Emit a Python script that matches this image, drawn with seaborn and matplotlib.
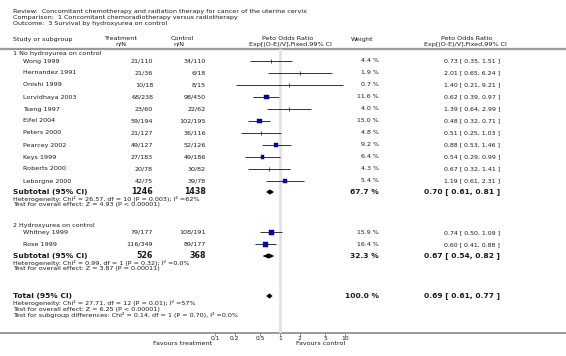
"""
Forest plot: Survival by hydroxyurea on control
Concomitant chemoradiotherapy versus radiotherapy
"""

import numpy as np
import pandas as pd
import matplotlib
matplotlib.use("Agg")
import matplotlib.pyplot as plt
import seaborn as sns

# ===================== Data =====================
REVIEW = "Review:  Concomitant chemotherapy and radiation therapy for cancer of the uterine cervix"
COMPARISON = "Comparison:  1 Concomitant chemoradiotherapy versus radiotherapy"
OUTCOME = "Outcome:  3 Survival by hydroxyurea on control"

G1_TITLE = "1 No hydroyurea on control"
G1_STUDIES = ["Wong 1999", "Hernandez 1991", "Onishi 1999", "Lorvidhaya 2003", "Tseng 1997",
              "Eifel 2004", "Peters 2000", "Pearcey 2002", "Keys 1999", "Roberts 2000",
              "Leborgne 2000"]
G1_TREAT = ["21/110", "21/36", "10/18", "68/238", "23/60", "59/194", "21/127", "49/127",
            "27/183", "20/78", "42/75"]
G1_CTRL = ["34/110", "6/18", "8/15", "98/450", "22/62", "102/195", "36/116", "52/126",
           "49/186", "30/82", "39/78"]
G1_WEIGHT = [4.4, 1.9, 0.7, 11.6, 4.0, 15.0, 4.8, 9.2, 6.4, 4.3, 5.4]
G1_OR = [0.73, 2.01, 1.40, 0.62, 1.39, 0.48, 0.51, 0.88, 0.54, 0.67, 1.19]
G1_LO = [0.35, 0.65, 0.21, 0.39, 0.64, 0.32, 0.25, 0.53, 0.29, 0.32, 0.61]
G1_HI = [1.51, 6.24, 9.21, 0.97, 2.99, 0.71, 1.03, 1.46, 0.99, 1.41, 2.31]
G1_SUB = {"treat": "1246", "ctrl": "1438", "weight": 67.7, "or": 0.70, "lo": 0.61, "hi": 0.81}
G1_HET = "Heterogeneity: Chi\u00b2 = 26.57, df = 10 (P = 0.003); I\u00b2 =62%"
G1_TEST = "Test for overall effect: Z = 4.93 (P < 0.00001)"

G2_TITLE = "2 Hydroxyurea on control"
G2_STUDIES = ["Whitney 1999", "Rose 1999"]
G2_TREAT = ["79/177", "116/349"]
G2_CTRL = ["108/191", "89/177"]
G2_WEIGHT = [15.9, 16.4]
G2_OR = [0.74, 0.60]
G2_LO = [0.50, 0.41]
G2_HI = [1.09, 0.88]
G2_SUB = {"treat": "526", "ctrl": "368", "weight": 32.3, "or": 0.67, "lo": 0.54, "hi": 0.82}
G2_HET = "Heterogeneity: Chi\u00b2 = 0.99, df = 1 (P = 0.32); I\u00b2 =0.0%"
G2_TEST = "Test for overall effect: Z = 3.87 (P = 0.00011)"

TOTAL = {"weight": 100.0, "or": 0.69, "lo": 0.61, "hi": 0.77}
TOTAL_HET = "Heterogeneity: Chi\u00b2 = 27.71, df = 12 (P = 0.01); I\u00b2 =57%"
TOTAL_TEST = "Test for overall effect: Z = 6.25 (P < 0.00001)"
TOTAL_SUBDIFF = "Test for subgroup differences: Chi\u00b2 = 0.14, df = 1 (P = 0.70), I\u00b2 =0.0%"

XTICKS = [0.1, 0.2, 0.5, 1, 2, 5, 10]
XTICK_LABELS = ["0.1", "0.2", "0.5", "1", "2", "5", "10"]

# ===================== Layout (pixels) =====================
W, H = 566, 356
X_NAME, X_STUDY = 13, 23
X_TREAT, X_CTRL = 153, 206
X_WEIGHT, X_RESULT = 379, 500
PX_PER_DECADE = 65.0
X_ONE = 280
TXT = "#1a1a1a"
SQUARE = "#0000cc"
FS = 4.6        # regular text
FS_VAL = 4.5    # weight / ratio values
FS_BOLD = 5.4   # subtotal rows

sns.set_style("white")
plt.rcParams["font.family"] = ["DejaVu Sans"]


def fmt_ci(o, l, h):
    return f"{o:.2f} [ {l:.2f}, {h:.2f} ]"


def study_rows(tx, fx, ys, studies, treat, ctrl, weight, ors, los, his):
    for y, s, t, c, w, o, l, h in zip(ys, studies, treat, ctrl, weight, ors, los, his):
        tx.text(X_STUDY, y, s, fontsize=FS, va="center", color=TXT)
        tx.text(X_TREAT, y, t, fontsize=FS, va="center", ha="right", color=TXT)
        tx.text(X_CTRL, y, c, fontsize=FS, va="center", ha="right", color=TXT)
        tx.text(X_WEIGHT, y, f"{w:.1f} %", fontsize=FS_VAL, va="center", ha="right", color=TXT)
        tx.text(X_RESULT, y, fmt_ci(o, l, h), fontsize=FS_VAL, va="center", ha="right", color=TXT)

    df = pd.DataFrame({"y": ys, "or": ors, "lo": los, "hi": his, "w": weight})
    fx.hlines(df["y"], df["lo"], df["hi"], color="#333333", lw=0.7, zorder=2)
    small = df[df["w"] < 5]
    big = df[df["w"] >= 5]
    if len(small):
        sns.scatterplot(data=small, x="or", y="y", marker="|", s=10, color="#333333",
                        linewidth=0.6, ax=fx, zorder=3, legend=False)
    if len(big):
        sizes = ((2.6 + 0.15 * big["w"]) * 0.72) ** 2
        fx.scatter(big["or"], big["y"], marker="s", s=sizes, color=SQUARE,
                   edgecolors="#000066", linewidths=0.3, zorder=3)


def diamond(fx, y, o, l, h, half=2.6):
    fx.fill([l, o, h, o], [y, y - half, y, y + half], color="black", zorder=3, lw=0)


def summary_row(tx, fx, y, label, res, treat=None, ctrl=None):
    tx.text(X_NAME, y, label, fontsize=FS_BOLD, fontweight="bold", va="center", color=TXT)
    if treat is not None:
        tx.text(X_TREAT, y, treat, fontsize=FS_BOLD + 0.3, fontweight="bold", va="center", ha="right", color=TXT)
        tx.text(X_CTRL, y, ctrl, fontsize=FS_BOLD + 0.3, fontweight="bold", va="center", ha="right", color=TXT)
    tx.text(X_WEIGHT, y, f"{res['weight']:.1f} %", fontsize=FS_BOLD, fontweight="bold",
            va="center", ha="right", color=TXT)
    tx.text(X_RESULT, y, fmt_ci(res["or"], res["lo"], res["hi"]), fontsize=FS_BOLD,
            fontweight="bold", va="center", ha="right", color=TXT)
    diamond(fx, y, res["or"], res["lo"], res["hi"])


def small_note(tx, y, s):
    tx.text(X_NAME, y, s, fontsize=FS, va="center", color=TXT)


def main():
    fig = plt.figure(figsize=(W / 100, H / 100), dpi=100)
    tx = fig.add_axes([0, 0, 1, 1])
    tx.set_xlim(0, W)
    tx.set_ylim(H, 0)
    tx.axis("off")

    # forest panel, log scale centred on 1
    left_px, right_px = 200, 360
    top_px, bot_px = 48.5, 333
    fx = fig.add_axes([left_px / W, (H - bot_px) / H, (right_px - left_px) / W, (bot_px - top_px) / H])
    fx.patch.set_alpha(0)
    fx.axvline(1, color="#e2e2e2", lw=2, zorder=0)

    # header
    tx.text(X_NAME, 12, REVIEW, fontsize=FS, va="center", color=TXT)
    tx.text(X_NAME, 17.5, COMPARISON, fontsize=FS, va="center", color=TXT)
    tx.text(X_NAME, 23, OUTCOME, fontsize=FS, va="center", color=TXT)
    tx.text(X_NAME, 39, "Study or subgroup", fontsize=FS, va="center", color=TXT)
    tx.text(120, 39, "Treatment", fontsize=FS, va="center", ha="center", color=TXT)
    tx.text(121, 44.5, "n/N", fontsize=FS, va="center", ha="center", color=TXT)
    tx.text(182, 39, "Control", fontsize=FS, va="center", ha="center", color=TXT)
    tx.text(179, 44.5, "n/N", fontsize=FS, va="center", ha="center", color=TXT)
    tx.text(288, 39, "Peto Odds Ratio", fontsize=FS, va="center", ha="center", color=TXT)
    tx.text(290, 44.5, "Exp[(O-E)/V],Fixed,99% CI", fontsize=FS, va="center", ha="center", color=TXT)
    tx.text(351, 39, "Weight", fontsize=FS, va="center", color=TXT)
    tx.text(467, 39, "Peto Odds Ratio", fontsize=FS, va="center", ha="center", color=TXT)
    tx.text(465, 44.5, "Exp[(O-E)/V],Fixed,99% CI", fontsize=FS, va="center", ha="center", color=TXT)
    tx.plot([0, W], [48.5, 48.5], color="#9a9a9a", lw=1.6, solid_capstyle="butt")

    # subgroup 1
    tx.text(X_NAME, 53.5, G1_TITLE, fontsize=FS, va="center", color=TXT)
    ys1 = 61 + 12 * np.arange(len(G1_STUDIES))
    study_rows(tx, fx, ys1, G1_STUDIES, G1_TREAT, G1_CTRL, G1_WEIGHT, G1_OR, G1_LO, G1_HI)
    summary_row(tx, fx, 192, "Subtotal (95% CI)", G1_SUB, G1_SUB["treat"], G1_SUB["ctrl"])
    small_note(tx, 199, G1_HET)
    small_note(tx, 204.5, G1_TEST)

    # subgroup 2
    tx.text(X_NAME, 226, G2_TITLE, fontsize=FS, va="center", color=TXT)
    ys2 = 232.5 + 12 * np.arange(len(G2_STUDIES))
    study_rows(tx, fx, ys2, G2_STUDIES, G2_TREAT, G2_CTRL, G2_WEIGHT, G2_OR, G2_LO, G2_HI)
    summary_row(tx, fx, 256, "Subtotal (95% CI)", G2_SUB, G2_SUB["treat"], G2_SUB["ctrl"])
    small_note(tx, 263, G2_HET)
    small_note(tx, 268.5, G2_TEST)

    # total
    summary_row(tx, fx, 296, "Total (95% CI)", TOTAL)
    small_note(tx, 303.5, TOTAL_HET)
    small_note(tx, 309, TOTAL_TEST)
    small_note(tx, 314.5, TOTAL_SUBDIFF)

    # axis formatting after seaborn has drawn
    fx.set_xscale("log")
    fx.set_xlim(10 ** ((left_px - X_ONE) / PX_PER_DECADE), 10 ** ((right_px - X_ONE) / PX_PER_DECADE))
    fx.set_ylim(bot_px, top_px)
    for sp in fx.spines.values():
        sp.set_visible(False)
    fx.set_yticks([])
    fx.set_xticks(XTICKS)
    fx.set_xticklabels(XTICK_LABELS)
    fx.minorticks_off()
    fx.tick_params(axis="x", bottom=True, direction="out", length=1.8, width=0.5,
                   color="#666666", labelsize=4.3, pad=0.2, labelcolor=TXT)
    fx.set_xlabel("")
    fx.set_ylabel("")

    # axis line and favours labels
    tx.plot([0, W], [333, 333], color="#9a9a9a", lw=1.4, solid_capstyle="butt")
    tx.text(183, 343.5, "Favours treatment", fontsize=FS, va="center", ha="center", color=TXT)
    tx.text(321, 343.5, "Favours control", fontsize=FS, va="center", ha="center", color=TXT)

    fig.savefig("out.png", dpi=100)


if __name__ == "__main__":
    main()
